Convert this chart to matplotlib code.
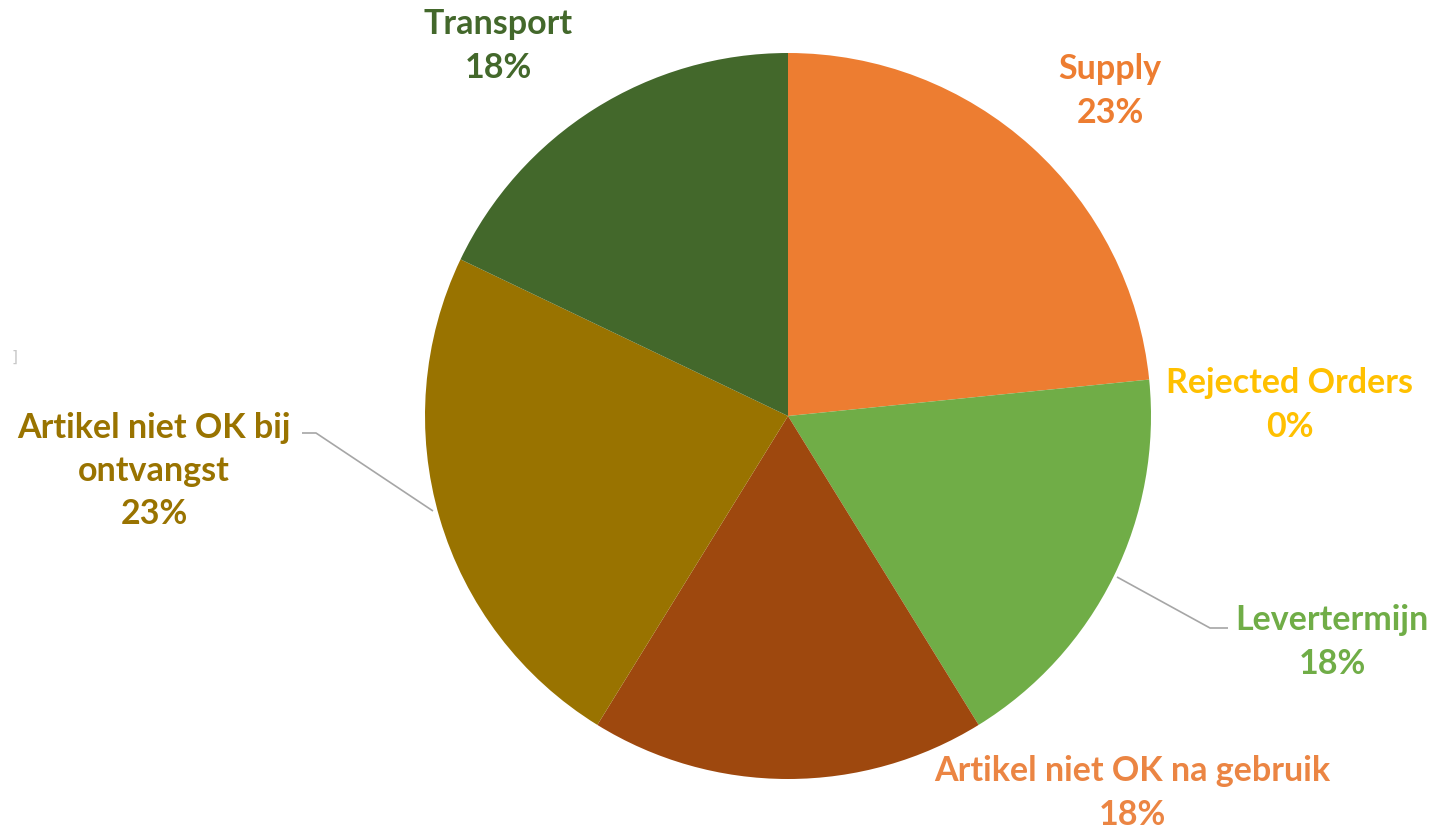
import matplotlib
matplotlib.use('Agg')
import matplotlib.pyplot as plt

# ── Data (shares, percent) ──
categories = ['Supply', 'Rejected Orders', 'Levertermijn',
              'Artikel niet OK na gebruik', 'Artikel niet OK bij\nontvangst', 'Transport']
shares = [23.4, 0.0, 17.8, 17.6, 23.3, 17.9]

slice_colors = ['#ED7D31', '#FFC000', '#70AD47', '#9E480E', '#997300', '#43682B']
label_colors = ['#ED7D31', '#FFC000', '#70AD47', '#EB8543', '#997300', '#43682B']

W, H = 1436, 829

# label centres in image pixels (x, y from top)
label_pos = [(1110, 91), (1290, 405), (1332, 642), (1132, 793), (154, 471), (498, 46)]


def py(y):
    # image rows -> data y
    return H - y


fig = plt.figure(figsize=(W / 100, H / 100), dpi=100)
fig.patch.set_facecolor('white')
ax = fig.add_axes([0, 0, 1, 1])

ax.pie(shares, colors=slice_colors, startangle=90, counterclock=False,
       radius=363, center=(788, py(417)),
       wedgeprops=dict(linewidth=0))

ax.set_xlim(0, W)
ax.set_ylim(0, H)
ax.set_aspect('equal')
ax.axis('off')

total = sum(shares)
for name, val, col, (x, y) in zip(categories, shares, label_colors, label_pos):
    txt = f'{name}\n{round(val / total * 100):.0f}%'
    ax.text(x, py(y), txt, ha='center', va='center', color=col,
            fontsize=24.5, fontweight='bold', family='Lato', linespacing=1.44)

# leader lines
lc = '#A6A6A6'
ax.plot([302, 316, 433], [py(434), py(434), py(512)], color=lc, lw=1.2, solid_capstyle='butt')
ax.plot([1117, 1210, 1228], [py(578), py(629), py(629)], color=lc, lw=1.2, solid_capstyle='butt')

# small stray mark at the left edge of the original
ax.text(15, py(357), ']', ha='center', va='center', color='#C8C8C8', fontsize=11)

fig.savefig('out.png', dpi=100, facecolor='white')
plt.close(fig)
